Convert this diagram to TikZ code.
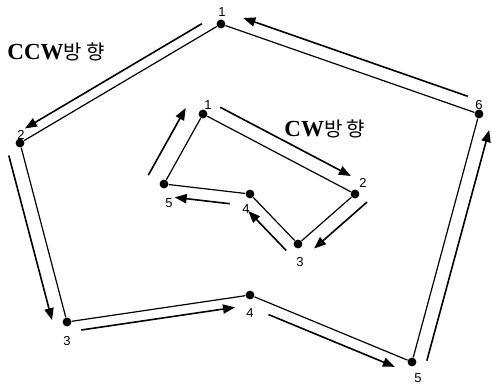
\documentclass[tikz,border=0pt]{standalone}
\usepackage{fontspec}
\setmainfont{Liberation Serif}
\setsansfont{Liberation Sans}
\newfontfamily\krfont{Noto Sans CJK KR}
\usetikzlibrary{calc,arrows.meta}

\tikzset{
  dot/.style={circle, fill, inner sep=0pt, minimum size=4.4pt},
  num/.style={font=\sffamily\fontsize{6.5}{7}\selectfont, inner sep=0pt},
  ring/.style={line width=.6pt},
  flow/.style={line width=.8pt, -{Triangle[length=6pt,width=4.6pt]}},
  title/.style={anchor=base west, inner sep=0pt, font=\fontsize{11.5}{13}\selectfont\bfseries},
}

\begin{document}
\begin{tikzpicture}[x=.5pt,y=-.5pt]
\useasboundingbox (0,0) rectangle (492,385);

% outer polygon (CCW)
\node[dot] (o1) at (221,24) {};
\node[dot] (o2) at (20,143) {};
\node[dot] (o3) at (67,322) {};
\node[dot] (o4) at (250,295) {};
\node[dot] (o5) at (412,362) {};
\node[dot] (o6) at (479,114) {};

\node[num] (n1) at (222,12) {1};
\node[num] (n2) at (21,135) {2};
\node[num] (n3) at (67,341) {3};
\node[num] (n4) at (250,313) {4};
\node[num] (n5) at (418,378) {5};
\node[num] (n6) at (479,105) {6};

\draw[ring] (o1) -- (o2) -- (o3) -- (o4) -- (o5) -- (o6) -- (o1);

\draw[flow] ($(o1)!.07!(o2)!5pt!-90:(o2)$) -- ($(o1)!.95!(o2)!5pt!-90:(o2)$);
\draw[flow] ($(o2)!.05!(o3)!7pt!-90:(o3)$) -- ($(o2)!.97!(o3)!7pt!-90:(o3)$);
\draw[flow] ($(o3)!.07!(o4)!5pt!-90:(o4)$) -- ($(o3)!.91!(o4)!5pt!-90:(o4)$);
\draw[flow] ($(o4)!.14!(o5)!5.5pt!-90:(o5)$) -- ($(o4)!.92!(o5)!5.5pt!-90:(o5)$);
\draw[flow] ($(o5)!.02!(o6)!7pt!-90:(o6)$) -- ($(o5)!.95!(o6)!7pt!-90:(o6)$);
\draw[flow] ($(o6)!.06!(o1)!6.5pt!-90:(o1)$) -- ($(o6)!.93!(o1)!6.5pt!-90:(o1)$);

% inner polygon (CW)
\node[dot] (i1) at (203,114) {};
\node[dot] (i2) at (355,194) {};
\node[dot] (i3) at (298,244) {};
\node[dot] (i4) at (250,194) {};
\node[dot] (i5) at (164,184) {};

\node[num] (m1) at (208,105) {1};
\node[num] (m2) at (363,183) {2};
\node[num] (m3) at (300,262) {3};
\node[num] (m4) at (246,209) {4};
\node[num] (m5) at (169,203) {5};

\draw[ring] (i1) -- (i2) -- (i3) -- (i4) -- (i5) -- (i1);

\draw[flow] ($(i1)!.07!(i2)!7pt!90:(i2)$) -- ($(i1)!.93!(i2)!7pt!90:(i2)$);
\draw[flow] ($(i2)!-.05!(i3)!7pt!90:(i3)$) -- ($(i2)!.88!(i3)!7pt!90:(i3)$);
\draw[flow] ($(i3)!.05!(i4)!6.5pt!90:(i4)$) -- ($(i3)!.84!(i4)!6.5pt!90:(i4)$);
\draw[flow] ($(i4)!.22!(i5)!6pt!90:(i5)$) -- ($(i4)!.86!(i5)!6pt!90:(i5)$);
\draw[flow] ($(i5)!0!(i1)!9pt!90:(i1)$) -- ($(i5)!.96!(i1)!9pt!90:(i1)$);

\node[title] (ccw) at (7,60) {CCW{\krfont\mdseries\fontsize{10}{12}\selectfont 방 향}};
\node[title] (cw) at (284,136) {CW{\krfont\mdseries\fontsize{10}{12}\selectfont 방 향}};
\end{tikzpicture}
\end{document}
